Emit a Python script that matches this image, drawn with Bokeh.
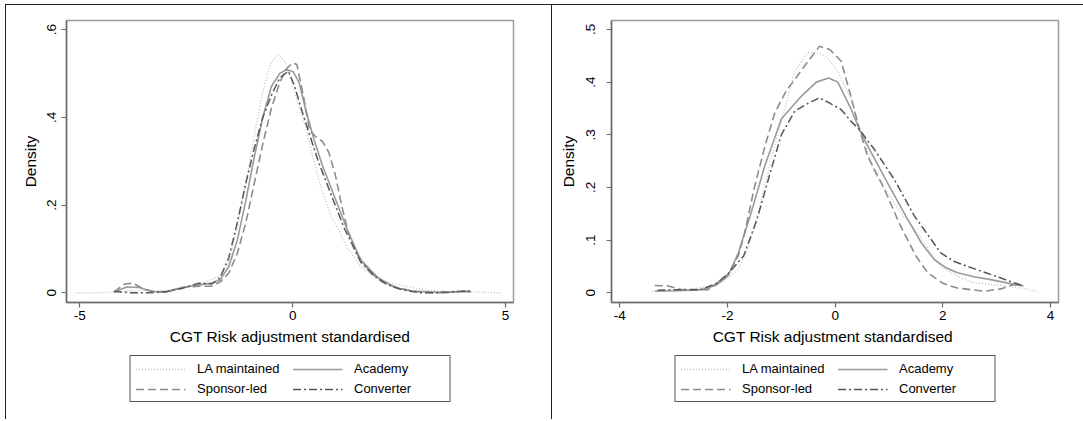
from bokeh.plotting import figure
from bokeh.layouts import row, column
from bokeh.models import Legend, LegendItem, FixedTicker, CustomJSTickFormatter, Range1d
from bokeh.embed import file_html
from bokeh.resources import INLINE

# ---------------- data: left panel (CGT Risk adjustment standardised) ----------------
L_la_x = [-5.1, -4.5, -4.0, -3.5, -3.0, -2.6, -2.2, -1.9, -1.7, -1.5, -1.3, -1.1, -0.9, -0.7, -0.5, -0.35, -0.2, -0.05, 0.1, 0.3, 0.5, 0.7, 0.9, 1.1, 1.3, 1.6, 2.0, 2.4, 2.8, 3.2, 3.6, 4.0, 4.5, 4.9]
L_la_y = [0.0, 0.0, 0.003, 0.006, 0.004, 0.012, 0.02, 0.03, 0.04, 0.07, 0.15, 0.25, 0.36, 0.46, 0.525, 0.544, 0.53, 0.49, 0.44, 0.38, 0.3, 0.23, 0.175, 0.14, 0.1, 0.06, 0.03, 0.02, 0.012, 0.006, 0.003, 0.002, 0.001, 0.0]

L_ac_x = [-4.2, -3.9, -3.6, -3.3, -3.0, -2.6, -2.2, -1.9, -1.7, -1.5, -1.3, -1.1, -0.9, -0.7, -0.5, -0.3, -0.15, 0.0, 0.15, 0.3, 0.5, 0.7, 0.9, 1.1, 1.3, 1.6, 2.0, 2.4, 2.8, 3.2, 3.6, 4.0, 4.2]
L_ac_y = [0.002, 0.013, 0.012, 0.003, 0.002, 0.012, 0.018, 0.022, 0.03, 0.06, 0.12, 0.21, 0.31, 0.4, 0.47, 0.5, 0.508, 0.505, 0.48, 0.42, 0.35, 0.29, 0.24, 0.19, 0.14, 0.075, 0.035, 0.012, 0.004, 0.002, 0.0, 0.003, 0.002]

L_sp_x = [-4.2, -3.95, -3.75, -3.5, -3.2, -2.9, -2.6, -2.2, -1.9, -1.7, -1.5, -1.3, -1.1, -0.9, -0.7, -0.5, -0.3, -0.15, 0.0, 0.1, 0.25, 0.4, 0.55, 0.7, 0.85, 1.0, 1.15, 1.3, 1.5, 1.8, 2.1, 2.5, 2.9, 3.3, 3.7, 4.0, 4.2]
L_sp_y = [0.002, 0.02, 0.022, 0.008, 0.002, 0.003, 0.012, 0.015, 0.015, 0.025, 0.045, 0.09, 0.16, 0.25, 0.34, 0.42, 0.48, 0.51, 0.524, 0.52, 0.45, 0.37, 0.355, 0.345, 0.32, 0.27, 0.2, 0.14, 0.09, 0.05, 0.025, 0.01, 0.003, 0.0, 0.002, 0.004, 0.003]

L_cv_x = [-4.2, -3.8, -3.4, -3.0, -2.6, -2.2, -1.9, -1.7, -1.5, -1.3, -1.1, -0.9, -0.7, -0.5, -0.3, -0.1, 0.05, 0.2, 0.4, 0.6, 0.8, 1.0, 1.2, 1.4, 1.6, 1.9, 2.2, 2.6, 3.0, 3.4, 3.8, 4.2]
L_cv_y = [0.003, 0.0, 0.0, 0.002, 0.01, 0.022, 0.02, 0.035, 0.08, 0.16, 0.25, 0.33, 0.4, 0.45, 0.49, 0.505, 0.47, 0.42, 0.36, 0.3, 0.25, 0.2, 0.15, 0.11, 0.07, 0.04, 0.02, 0.006, 0.0, 0.0, 0.003, 0.004]

# ---------------- data: right panel ----------------
R_la_x = [-3.4, -2.8, -2.24, -2.0, -1.8, -1.6, -1.43, -1.19, -0.94, -0.75, -0.51, -0.3, -0.14, 0.05, 0.3, 0.5, 0.73, 1.0, 1.22, 1.53, 1.75, 1.96, 2.3, 2.58, 3.2, 3.5, 3.76]
R_la_y = [0.003, 0.006, 0.013, 0.028, 0.044, 0.09, 0.152, 0.253, 0.348, 0.42, 0.456, 0.455, 0.446, 0.42, 0.367, 0.3, 0.228, 0.185, 0.152, 0.114, 0.08, 0.05, 0.03, 0.019, 0.013, 0.008, 0.003]

R_ac_x = [-3.35, -2.9, -2.48, -2.2, -1.99, -1.8, -1.56, -1.31, -1.0, -0.63, -0.35, -0.12, 0.05, 0.3, 0.45, 0.67, 1.04, 1.35, 1.6, 1.84, 2.05, 2.27, 2.6, 2.89, 3.32, 3.5]
R_ac_y = [0.003, 0.004, 0.006, 0.015, 0.032, 0.075, 0.152, 0.24, 0.33, 0.373, 0.4, 0.408, 0.4, 0.348, 0.31, 0.266, 0.196, 0.139, 0.095, 0.063, 0.048, 0.038, 0.03, 0.025, 0.016, 0.013]

R_sp_x = [-3.35, -3.1, -2.85, -2.36, -1.99, -1.8, -1.68, -1.5, -1.3, -1.12, -0.9, -0.75, -0.5, -0.29, -0.1, 0.11, 0.3, 0.45, 0.6, 0.9, 1.2, 1.5, 1.72, 2.0, 2.27, 2.77, 3.1, 3.32, 3.45]
R_sp_y = [0.014, 0.013, 0.006, 0.006, 0.035, 0.07, 0.114, 0.2, 0.28, 0.342, 0.385, 0.405, 0.44, 0.468, 0.462, 0.44, 0.37, 0.31, 0.26, 0.2, 0.13, 0.07, 0.038, 0.018, 0.009, 0.003, 0.008, 0.016, 0.013]

R_cv_x = [-3.3, -2.9, -2.5, -2.2, -2.0, -1.7, -1.45, -1.2, -1.0, -0.75, -0.5, -0.29, -0.1, 0.11, 0.3, 0.45, 0.73, 1.1, 1.47, 1.96, 2.2, 2.46, 2.8, 3.08, 3.3, 3.5]
R_cv_y = [0.005, 0.006, 0.006, 0.018, 0.035, 0.07, 0.14, 0.23, 0.3, 0.345, 0.36, 0.37, 0.36, 0.348, 0.325, 0.31, 0.272, 0.215, 0.146, 0.076, 0.06, 0.05, 0.038, 0.028, 0.02, 0.013]

series_names = ["LA maintained", "Academy", "Sponsor-led", "Converter"]

left_xticks = [-5, 0, 5]
left_yticks = [0, 0.2, 0.4, 0.6]
right_xticks = [-4, -2, 0, 2, 4]
right_yticks = [0, 0.1, 0.2, 0.3, 0.4, 0.5]

left_xlabel = "CGT Risk adjustment standardised"
right_xlabel = "CGT Risk adjustment  standardised"
ylabel = "Density"

FONT = "Liberation Sans"
styles_line = [
    dict(line_color="#c4c4c4", line_dash="1 2", line_width=1.4),
    dict(line_color="#9a9a9a", line_dash="solid", line_width=1.6),
    dict(line_color="#8c8c8c", line_dash="8 4", line_width=1.6),
    dict(line_color="#555555", line_dash="8 3 2 3", line_width=1.5),
]

fmt = CustomJSTickFormatter(code="""
    if (Math.abs(tick) < 1e-9) return "0";
    if (Number.isInteger(tick)) return String(tick);
    var s = tick.toFixed(1);
    return s.replace(/^0\\./, ".").replace(/^-0\\./, "-.");
""")

PLOT_H = 344
LEG_H = 70


def make_panel(width, mbl, mbr, xr, yr, xticks, yticks, xlabel, data, css, y_std, y_lab_std):
    p = figure(width=width, height=PLOT_H, output_backend="svg", toolbar_location=None,
               x_range=Range1d(*xr), y_range=Range1d(*yr),
               min_border_left=mbl, min_border_right=mbr, min_border_top=15, min_border_bottom=47,
               background_fill_color="white", border_fill_color="white")
    p.grid.visible = False
    p.outline_line_color = "#9a9a9a"
    p.outline_line_width = 1.5
    for ax in (p.xaxis[0], p.yaxis[0]):
        ax.axis_line_color = "#6a6a6a"
        ax.axis_line_width = 1.5
        ax.major_tick_line_color = "#6a6a6a"
        ax.major_tick_line_width = 1.2
        ax.major_tick_out = 5
        ax.major_tick_in = 0
        ax.minor_tick_line_color = None
        ax.major_label_text_font = FONT
        ax.major_label_text_font_size = "13.5px"
        ax.major_label_text_color = "black"
        ax.axis_label_text_font = FONT
        ax.axis_label_text_font_size = "15.5px"
        ax.axis_label_text_font_style = "normal"
        ax.axis_label_text_color = "black"
        ax.formatter = fmt
    p.xaxis[0].ticker = FixedTicker(ticks=xticks)
    p.yaxis[0].ticker = FixedTicker(ticks=yticks)
    p.xaxis[0].axis_label = xlabel
    p.yaxis[0].axis_label = ylabel
    p.xaxis[0].major_label_standoff = 3
    p.xaxis[0].axis_label_standoff = 5
    p.yaxis[0].major_label_standoff = y_std
    p.yaxis[0].axis_label_standoff = y_lab_std
    p.yaxis[0].major_label_orientation = "vertical"

    for (xs, ys), st in zip(data, styles_line):
        p.line(xs, ys, **st)

    # legend panel below the plot (its own small figure; its style renderers lie outside its range)
    lf = figure(width=width, height=LEG_H, output_backend="svg", toolbar_location=None,
                x_range=Range1d(0, 1), y_range=Range1d(0, 1),
                x_axis_type=None, y_axis_type=None,
                min_border_left=mbl, min_border_right=mbr, min_border_top=0, min_border_bottom=0,
                background_fill_color="white", border_fill_color="white")
    lf.grid.visible = False
    lf.outline_line_color = None
    rs = [lf.line(x=[-2, -1], y=[-2, -2], **st) for st in styles_line]
    items = [LegendItem(label=n, renderers=[r]) for n, r in zip(series_names, rs)]
    leg = Legend(items=items, orientation="horizontal", ncols=2, location="top_center",
                 label_text_font=FONT, label_text_font_size="13px", label_text_color="black",
                 glyph_width=50, glyph_height=14, label_standoff=12, label_height=14, label_width=90,
                 spacing=5, padding=5, margin=6,
                 border_line_color="#555555", border_line_width=1.2, border_line_alpha=1.0,
                 background_fill_color="white", background_fill_alpha=1.0)
    lf.add_layout(leg, "center")
    return column(p, lf, styles=css)


left = make_panel(545, 60, 38, (-5.314, 5.19), (-0.0221, 0.6205), left_xticks, left_yticks, left_xlabel,
                  [(L_la_x, L_la_y), (L_ac_x, L_ac_y), (L_sp_x, L_sp_y), (L_cv_x, L_cv_y)],
                  {"border-top": "1.5px solid #222", "border-left": "1.5px solid #222",
                   "border-right": "1.5px solid #222", "margin-top": "4px", "margin-left": "5px"}, 5, 6)
right = make_panel(531, 59, 25, (-4.154, 4.148), (-0.0184, 0.517), right_xticks, right_yticks, right_xlabel,
                   [(R_la_x, R_la_y), (R_ac_x, R_ac_y), (R_sp_x, R_sp_y), (R_cv_x, R_cv_y)],
                   {"border-top": "1.5px solid #222", "margin-top": "4px"}, 11, 7)

layout = row(left, right)
open("out.html", "w").write(file_html(layout, INLINE))
